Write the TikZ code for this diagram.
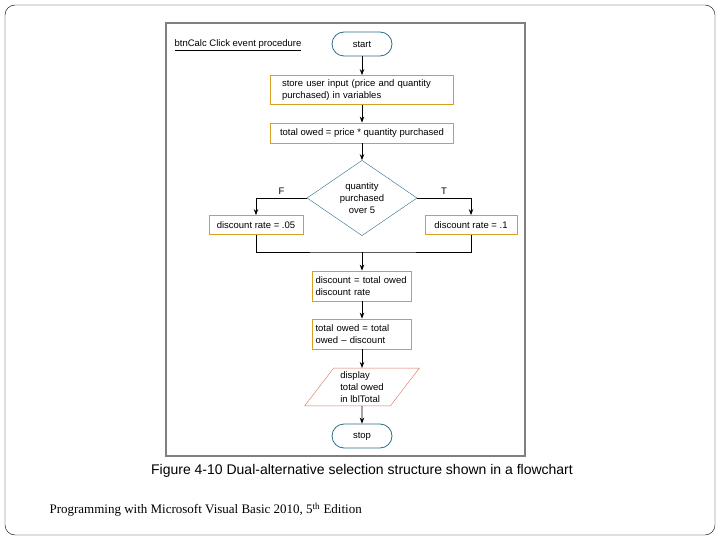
\documentclass[tikz,border=0pt]{standalone}
\usepackage{fontspec}
\setmainfont{Liberation Sans}
\newfontfamily\capserif{Liberation Serif}
\usetikzlibrary{arrows.meta}
\usetikzlibrary{shapes.geometric}
\usetikzlibrary{positioning}
\definecolor{boxorange}{HTML}{D9A020}
\definecolor{termteal}{HTML}{2B6C8C}
\definecolor{iored}{HTML}{D9725A}
\tikzset{
  arrow/.style = {thick,-{Stealth[length=6pt]}},
  link/.style = {thick},
  proc/.style = {draw=boxorange,thick,align=left,font=\fontsize{9.5}{11.5}\selectfont,inner sep=3pt},
  term/.style = {draw=termteal,thick,rounded corners=12pt,minimum width=60pt,minimum height=24pt,font=\fontsize{9.5}{10}\selectfont},
  test/.style = {draw=termteal,diamond,minimum width=110pt,minimum height=74pt,inner sep=0pt,align=center,font=\fontsize{9.5}{12}\selectfont},
  io/.style = {draw=iored,trapezium,trapezium left angle=56,trapezium right angle=124,trapezium stretches=true,minimum width=115pt,minimum height=37pt,align=left,font=\fontsize{9.5}{12}\selectfont}
}
\begin{document}
\begin{tikzpicture}[x=1pt,y=-1pt]

    \useasboundingbox (0,0) rectangle (720,540);
    \draw[rounded corners=10pt] (5,5) rectangle (715,535);
    \draw[gray,line width=1.5pt] (166,23) rectangle (525,456);

    \node[font=\fontsize{9.5}{10}\selectfont] (title) at (238,45) {\underline{btnCalc Click event procedure}};

    % main column
    \node[term] (start) at (362,44) {start};
    \node[proc,minimum width=183pt,minimum height=29pt,text width=160pt] (input) at (362,90) {store user input (price and quantity\\purchased) in variables};
    \node[proc,minimum width=183pt,minimum height=20pt] (total) at (362,133) {total owed = price * quantity purchased};
    \node[test] (cond) at (362,198) {quantity\\purchased\\over 5};
    \node[proc,minimum width=94pt,minimum height=19pt] (rateF) at (256,225) {discount rate = .05};
    \node[proc,minimum width=92pt,minimum height=19pt] (rateT) at (471,225) {discount rate = .1};
    \node[proc,minimum height=30pt,text width=93pt] (disc) at (362,286) {discount = total owed\\* discount rate};
    \node[proc,minimum height=30pt,text width=93pt] (newtot) at (362,334) {total owed = total\\owed -- discount};
    \node[io] (show) at (362,387) {display\\total owed\\in lblTotal};
    \node[term] (stop) at (362,436) {stop};

    \coordinate (join) at (362,252);

    \draw[arrow] (start) -- (input);
    \draw[arrow] (input) -- (total);
    \draw[arrow] (total) -- (cond);
    \draw[arrow] (cond.west) -| node[pos=0.25,above] {\fontsize{9.5}{10}\selectfont F} (rateF.north);
    \draw[arrow] (cond.east) -| node[pos=0.25,above] {\fontsize{9.5}{10}\selectfont T} (rateT.north);
    \draw[link] (rateF.south) |- (join) -| (rateT.south);
    \draw[arrow] (join) -- (disc);
    \draw[arrow] (disc) -- (newtot);
    \draw[arrow] (newtot) -- (show);
    \draw[arrow] (show) -- (stop);

    % captions
    \node[font=\fontsize{14}{16}\selectfont] (fig) at (362,471) {Figure 4-10 Dual-alternative selection structure shown in a flowchart};
    \node[anchor=west,font=\capserif\fontsize{13}{15}\selectfont] (book) at (46,510) {Programming with Microsoft Visual Basic 2010, 5\textsuperscript{th} Edition};

\end{tikzpicture}
\end{document}
